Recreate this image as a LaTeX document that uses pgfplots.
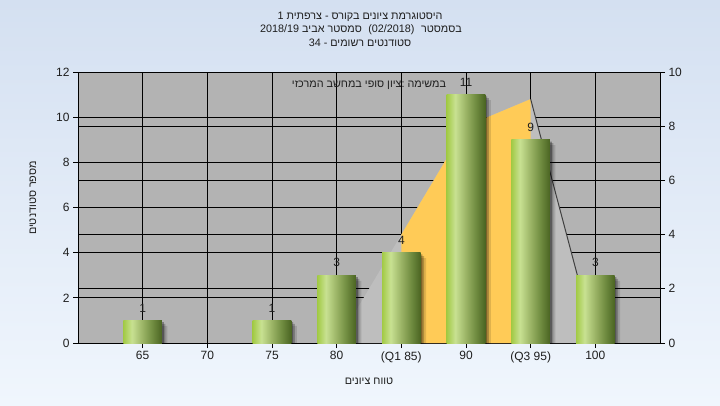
\documentclass[border=0pt]{standalone}
\usepackage{fontspec}
\setmainfont{Liberation Sans}
\newfontfamily\hebfont[Script=Hebrew]{Liberation Sans}
\usepackage{pgfplots}
\pgfplotsset{compat=1.18}
\TeXXeTstate=1

\definecolor{bgtop}{HTML}{D4E0F1}
\definecolor{bgbot}{HTML}{F0F6FD}
\definecolor{plotgray}{HTML}{B3B3B3}
\definecolor{areagray}{HTML}{BEBEBE}
\definecolor{areayellow}{HTML}{FFCB57}
\definecolor{darkline}{HTML}{404040}
\definecolor{labcol}{HTML}{1E1E1E}
\definecolor{gA}{HTML}{A2CA45}
\definecolor{gB}{HTML}{C8E192}
\definecolor{gC}{HTML}{9AB365}
\definecolor{gM}{HTML}{728E42}
\definecolor{gD}{HTML}{4A6422}

\pgfdeclarehorizontalshading{barshade}{100bp}{color(0bp)=(gA); color(25bp)=(gA); color(36bp)=(gB); color(50bp)=(gC); color(62bp)=(gM); color(75bp)=(gD); color(100bp)=(gD)}

\pgfplotsset{
  base/.style={
    scale only axis, width=582bp, height=271bp,
    at={(78bp,62bp)}, anchor=south west,
    xmin=-1, xmax=8,
    tick label style={font=\fontsize{12bp}{14bp}\selectfont, text=labcol},
    /pgf/number format/assume math mode=true,
    tick align=outside,
    major tick length=5bp,
    every tick/.style={black, line width=0.9bp},
    axis line style={black, line width=0.9bp},
    major grid style={black, line width=0.9bp},
  },
  onebar/.style={ybar, bar shift=0pt, bar width=38.6bp, draw=none, shading=barshade},
}

\begin{document}
\begin{tikzpicture}[x=1bp,y=1bp]
\useasboundingbox (0,0) rectangle (720,405);
\shade[top color=bgtop, bottom color=bgbot] (0,0) rectangle (720,405);

% Axis A: left scale, grid, background
\begin{axis}[base,
  ymin=0, ymax=12, ytick={0,2,...,12},
  axis x line*=bottom, axis y line*=left,
  xtick={0,...,7},
  xticklabels={65,70,75,80,(Q1 85),90,(Q3 95),100},
  xmajorgrids, ymajorgrids,
  axis background/.style={fill=plotgray},
]
\addplot[draw=none] coordinates {(0,0)};
\end{axis}

% Axis B: right scale, area
\begin{axis}[base,
  ymin=0, ymax=10, ytick={0,2,...,10},
  axis x line=none, axis y line*=right,
  ymajorgrids,
]
\addplot[fill=areagray, draw=none] coordinates {(3,0) (4,4) (5,8) (6,9) (7,0)} \closedcycle;
\addplot[fill=areayellow, draw=none] coordinates {(4,4) (5,8) (6,9)} \closedcycle;
\addplot[darkline, line width=1bp] coordinates {(6,9) (7,0)};
\end{axis}

% Axis C: bars
\begin{axis}[base,
  ymin=0, ymax=12, hide axis,
]
% shadows
\addplot[ybar, bar shift=0pt, bar width=38.6bp, draw=none, fill=black, opacity=0.12, xshift=5.5bp, yshift=-5.5bp]
  coordinates {(0,1) (2,1) (3,3) (4,4) (5,11) (6,9) (7,3)};
\addplot[ybar, bar shift=0pt, bar width=38.6bp, draw=none, fill=black, opacity=0.22, xshift=3.5bp, yshift=-3.5bp]
  coordinates {(0,1) (2,1) (3,3) (4,4) (5,11) (6,9) (7,3)};
\addplot[ybar, bar shift=0pt, bar width=38.6bp, draw=none, fill=black, opacity=0.3, xshift=1.8bp, yshift=-1.8bp]
  coordinates {(0,1) (2,1) (3,3) (4,4) (5,11) (6,9) (7,3)};
% bars
\addplot[onebar] coordinates {(0,1)};
\addplot[onebar] coordinates {(2,1)};
\addplot[onebar] coordinates {(3,3)};
\addplot[onebar] coordinates {(4,4)};
\addplot[onebar] coordinates {(5,11)};
\addplot[onebar] coordinates {(6,9)};
\addplot[onebar] coordinates {(7,3)};
% labels
\addplot[ybar, bar shift=0pt, bar width=38.6bp, draw=none, fill=none,
  nodes near coords,
  every node near coord/.append style={anchor=south, inner sep=0pt, yshift=8bp, font=\fontsize{12bp}{14bp}\selectfont, text=labcol},
  /pgf/number format/assume math mode=true]
  coordinates {(0,1) (2,1) (3,3) (4,4) (5,11) (6,9) (7,3)};
\end{axis}

% titles and labels
\begin{scope}[every node/.style={font=\hebfont\fontsize{10.8bp}{13bp}\selectfont, text=labcol, inner sep=0pt}]
\node at (360,388) {\beginR היסטוגרמת ציונים בקורס - צרפתית 1\endR};
\node at (361,375) {\beginR בסמסטר\hspace{0.6em}(02/2018)\hspace{0.6em}סמסטר אביב 2018/19\endR};
\node at (360,362) {\beginR סטודנטים רשומים - 34\endR};
\node at (369,320) {\beginR במשימה :ציון סופי במחשב המרכזי\endR};
\node[rotate=90] at (33,207) {\beginR מספר סטודנטים\endR};
\node at (369,24) {\beginR טווח ציונים\endR};
\end{scope}
\end{tikzpicture}
\end{document}
